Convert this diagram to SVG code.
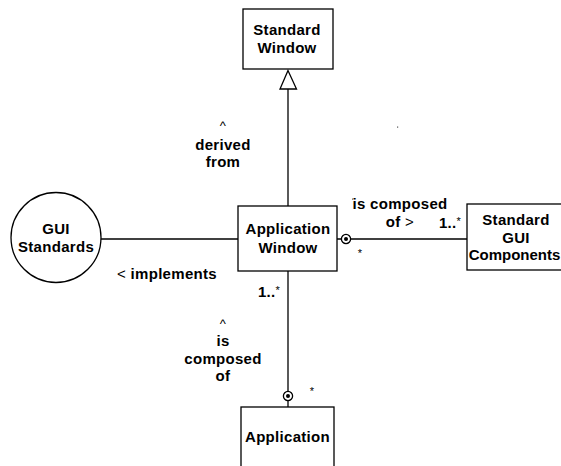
<svg xmlns="http://www.w3.org/2000/svg" width="561" height="466" viewBox="0 0 561 466">
  <style>
    .box { fill: #ffffff; stroke: #000000; stroke-width: 1.3; }
    .line { fill: none; stroke: #000000; stroke-width: 1.3; }
    text { font-family: "Liberation Sans", Arial, sans-serif; font-weight: bold; font-size: 15px; letter-spacing: 0.3px; fill: #000000; text-anchor: middle; }
    .thin { font-weight: normal; }
    .star { font-weight: normal; font-size: 11px; }
    .caret { font-weight: normal; font-size: 13px; }
  </style>
  <defs>
    <!-- containment end: ring with a filled centre -->
    <g id="contain">
      <circle cx="0" cy="0" r="4.6" fill="#ffffff" stroke="#000000" stroke-width="1.3"/>
      <circle cx="0" cy="0" r="2" fill="#000000"/>
    </g>
  </defs>
  <rect width="561" height="466" fill="#ffffff"/>

  <g id="connectors">
    <!-- generalisation: Application Window -> Standard Window -->
    <line class="line" x1="288" y1="89" x2="288" y2="206"/>
    <polygon points="288,70.5 280,89 296.5,89" fill="#ffffff" stroke="#000000" stroke-width="1.3"/>
    <!-- realisation of GUI Standards -->
    <line class="line" x1="101" y1="239" x2="238" y2="239"/>
    <!-- Application Window aggregates Standard GUI Components -->
    <line class="line" x1="337" y1="239" x2="467" y2="239"/>
    <use href="#contain" x="346" y="239"/>
    <!-- Application aggregates Application Window -->
    <line class="line" x1="288" y1="271" x2="288" y2="407"/>
    <use href="#contain" x="288" y="396"/>
  </g>

  <g id="standard-window">
    <rect class="box" x="243" y="9" width="90" height="60"/>
    <text x="287" y="35">Standard</text>
    <text x="287" y="53">Window</text>
  </g>

  <g id="gui-standards">
    <circle class="box" cx="56" cy="237.5" r="45"/>
    <text x="56" y="234">GUI</text>
    <text x="56" y="252">Standards</text>
  </g>

  <g id="application-window">
    <rect class="box" x="238" y="206" width="99" height="65"/>
    <text x="288" y="234">Application</text>
    <text x="288" y="252.5">Window</text>
  </g>

  <g id="standard-gui-components">
    <rect class="box" x="467" y="204" width="104" height="66"/>
    <text x="516" y="225">Standard</text>
    <text x="516" y="242.5">GUI</text>
    <text x="514.5" y="260" style="letter-spacing:0">Components</text>
  </g>

  <g id="application">
    <rect class="box" x="241" y="407" width="93" height="70"/>
    <text x="287.5" y="442">Application</text>
  </g>

  <g id="labels">
    <text class="caret" x="223" y="130">^</text>
    <text x="223" y="150">derived</text>
    <text x="223" y="166.5">from</text>

    <text x="167" y="279"><tspan class="thin">&lt;</tspan> implements</text>

    <text x="400" y="209">is composed</text>
    <text x="400" y="227">of <tspan class="thin">&gt;</tspan></text>
    <text x="450" y="227.5">1..<tspan class="star" dy="-3">*</tspan></text>
    <text class="star" x="360" y="257">*</text>

    <text x="269" y="296.5">1..<tspan class="star" dy="-3">*</tspan></text>
    <text class="caret" x="223" y="328">^</text>
    <text x="223" y="345.5">is</text>
    <text x="223" y="364">composed</text>
    <text x="223" y="380.5">of</text>
    <text class="star" x="312" y="395">*</text>
  </g>

  <!-- stray specks -->
  <g id="specks" fill="#555555">
    <rect x="397" y="126.5" width="1.2" height="1.2"/>
    <rect x="352" y="198.5" width="1.2" height="1.2"/>
  </g>
</svg>
